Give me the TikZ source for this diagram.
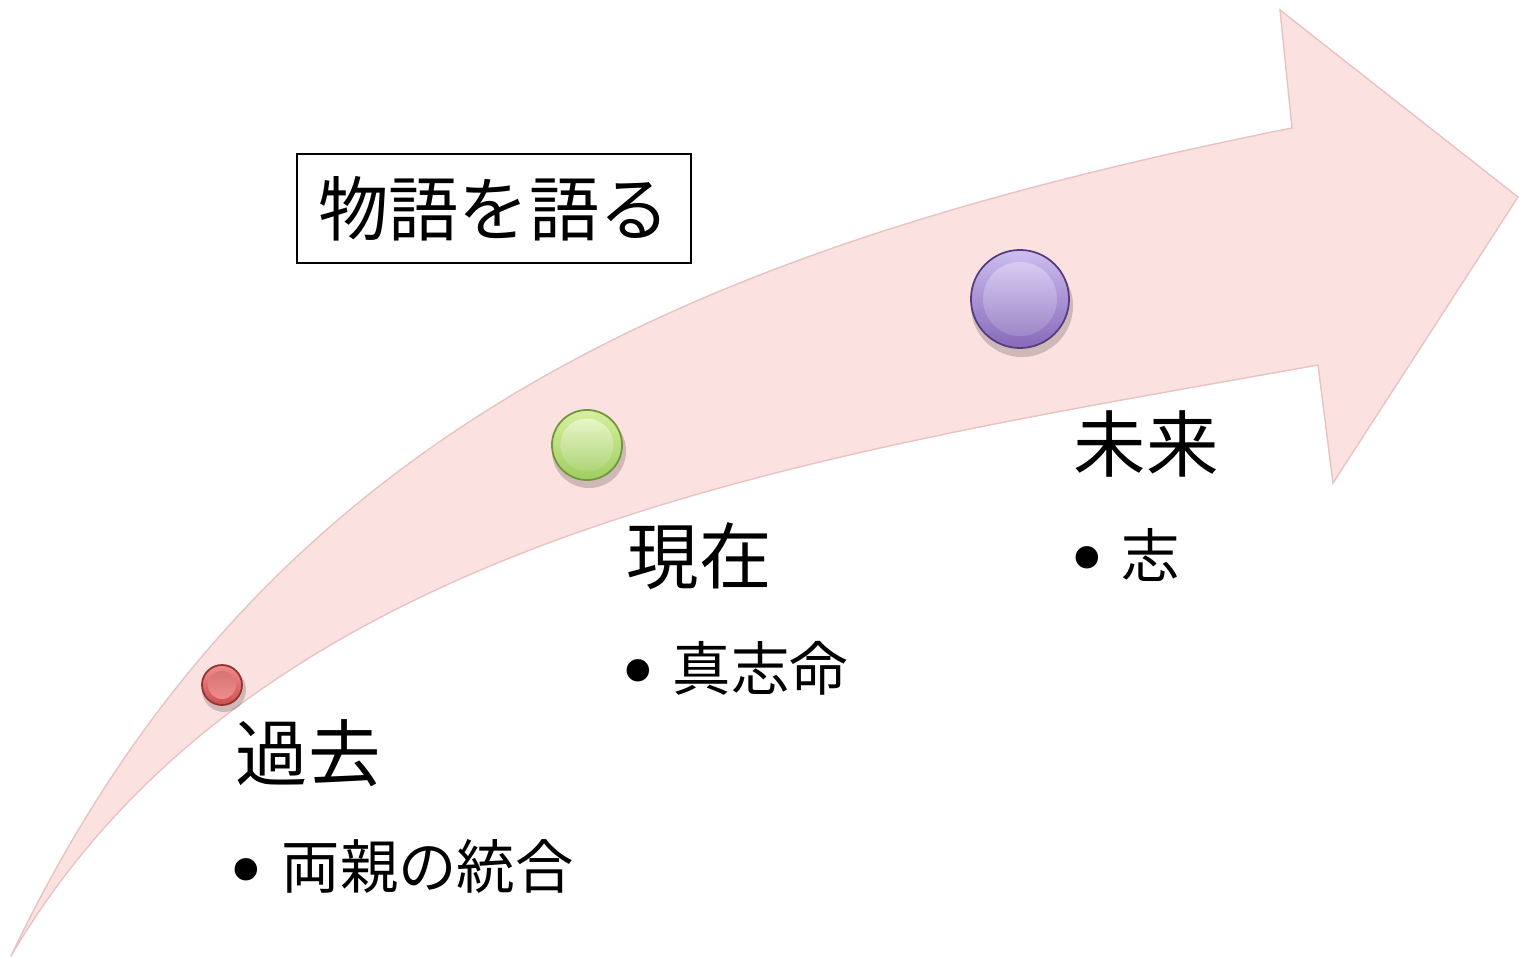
\documentclass[tikz,border=0pt]{standalone}
\usepackage{fontspec}
\setmainfont{Noto Sans CJK JP}
\newfontfamily\bulfont{DejaVu Sans}
\usetikzlibrary{shadings}
\definecolor{arrowpink}{RGB}{252,225,225}
\definecolor{arrowedge}{RGB}{232,195,195}
\definecolor{redA}{RGB}{240,140,140}
\definecolor{redB}{RGB}{205,80,80}
\definecolor{redC}{RGB}{150,50,50}
\definecolor{greenA}{RGB}{215,240,160}
\definecolor{greenB}{RGB}{160,205,95}
\definecolor{greenC}{RGB}{110,150,60}
\definecolor{purpA}{RGB}{205,190,240}
\definecolor{purpB}{RGB}{135,105,185}
\definecolor{purpC}{RGB}{85,60,125}
\tikzset{
  arrowbody/.style={fill=arrowpink, draw=arrowedge, line width=0.4pt},
  heading/.style={anchor=base west, inner sep=0pt, font=\fontsize{20.6}{24}\selectfont},
  item/.style={anchor=base west, inner sep=0pt, font=\fontsize{16.6}{20}\selectfont},
  bul/.style={anchor=center, inner sep=0pt, font=\bulfont\fontsize{22}{24}\selectfont},
  titlebox/.style={draw=black, line width=0.5pt, minimum width=3.94cm, minimum height=1.09cm, inner sep=0pt, font=\fontsize{20}{24}\selectfont},
  ballshadow/.style={circle, inner sep=0pt, fill=black, opacity=0.18},
  ballouter/.style={circle, inner sep=0pt, line width=0.5pt},
}
\begin{document}
\begin{tikzpicture}[x=0.01cm, y=-0.01cm]
\useasboundingbox (0,0) rectangle (1520,957);
% arrow
\path[arrowbody] (11,956) .. controls (261,431) and (692,248) .. (1292,128)
  -- (1280,10) -- (1518,197) -- (1333,483) -- (1318,365)
  .. controls (818,455) and (261,531) .. (11,956) -- cycle;
% title
\node[titlebox] (title) at (494,208.5) {物語を語る};
% buttons
\node[ballshadow, minimum size=0.44cm] (rs) at (224,690) {};
\node[ballouter, minimum size=0.40cm, draw=redC, top color=redA, bottom color=redB] (rb) at (222,685) {};
\node[circle, inner sep=0pt, minimum size=0.28cm, top color=redB!80!white, bottom color=redA] (ri) at (rb) {};
\node[ballshadow, minimum size=0.74cm] (gs) at (589,451) {};
\node[ballouter, minimum size=0.70cm, draw=greenC, top color=greenA, bottom color=greenB] (gb) at (587,445) {};
\node[circle, inner sep=0pt, minimum size=0.53cm, top color=greenA!60!white, bottom color=greenB!85!white] (gi) at (gb) {};
\node[ballshadow, minimum size=1.02cm] (ps) at (1022,306) {};
\node[ballouter, minimum size=0.98cm, draw=purpC, top color=purpA, bottom color=purpB] (pb) at (1020,299) {};
\node[circle, inner sep=0pt, minimum size=0.74cm, top color=purpA!80!white, bottom color=purpB!80!white] (pi) at (pb) {};
% labels
\node[heading] (past) at (235,780) {過去};
\node[bul] (pastbul) at (246.5,879) {•};
\node[item] (pastitem) at (281,888) {両親の統合};
\node[heading] (now) at (626,583) {現在};
\node[bul] (nowbul) at (638,680) {•};
\node[item] (nowitem) at (672,690) {真志命};
\node[heading] (future) at (1073,471) {未来};
\node[bul] (futbul) at (1087,567) {•};
\node[item] (futitem) at (1121,577) {志};
\end{tikzpicture}
\end{document}
